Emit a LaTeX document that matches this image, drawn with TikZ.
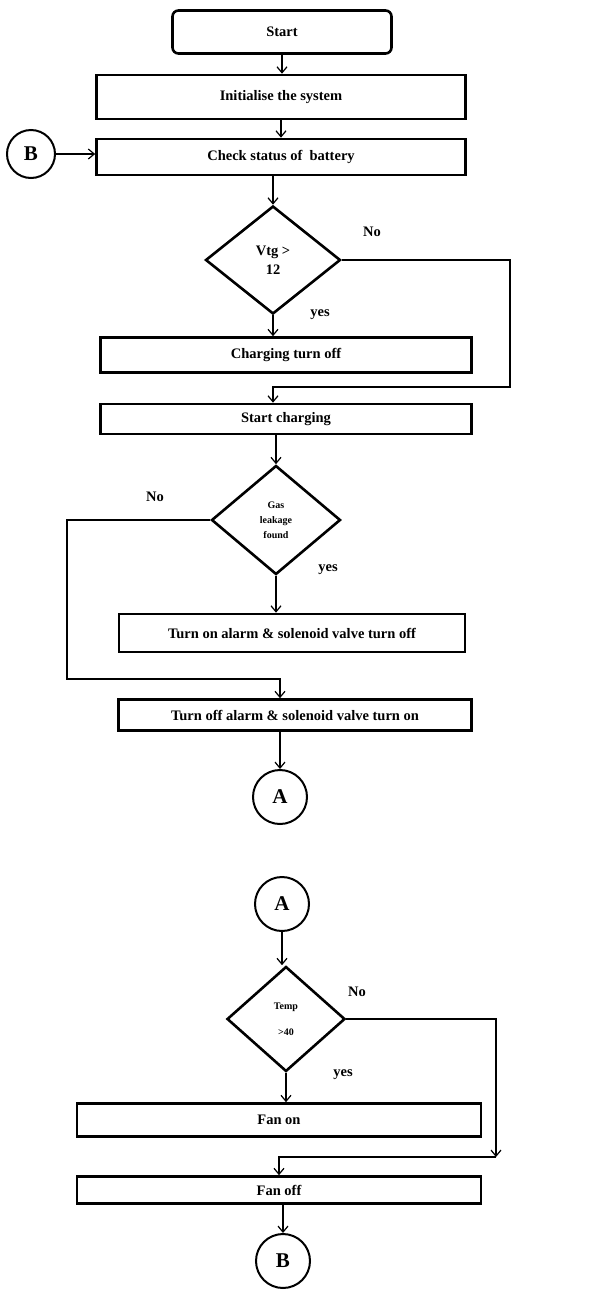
\documentclass[tikz,border=0pt]{standalone}
\usepackage{fontspec}
\setmainfont{Liberation Serif}
\usetikzlibrary{shapes.geometric,arrows.meta}

\begin{document}
\begin{tikzpicture}[x=1pt,y=-1pt,
  font=\bfseries\fontsize{14.5}{17}\selectfont,
  box/.style={draw,line width=2.6pt,inner sep=0pt},
  decision/.style={draw,diamond,line width=2.6pt,inner sep=0pt,align=center},
  connector/.style={draw,circle,line width=2pt,minimum size=54pt,inner sep=0pt,
    font=\bfseries\fontsize{21}{21}\selectfont},
  flow/.style={line width=1.2pt,-{Straight Barb[length=6pt,width=10pt]}},
  lbl/.style={inner sep=0pt}]
\useasboundingbox (0,0) rectangle (601,1291);

% first part
\node[box,rounded corners=6pt,minimum width=219pt,minimum height=43pt] (start) at (282,32) {Start};
\node[box,minimum width=369pt,minimum height=44pt] (init) at (281,97) {Initialise the system};
\node[box,minimum width=369pt,minimum height=36pt] (check) at (281,157) {Check status of\ \ battery};
\node[connector,minimum size=48pt] (b1) at (31,154) {B};
\node[decision,minimum width=135pt,minimum height=108pt] (vtg) at (273,260) {Vtg >\\[2pt]12};
\node[box,minimum width=371pt,minimum height=35pt] (chgoff) at (286,355) {Charging turn off};
\node[box,minimum width=371pt,minimum height=30pt] (chgon) at (286,419) {Start charging};
\node[decision,minimum width=129pt,minimum height=109pt,
  font=\bfseries\fontsize{10}{15}\selectfont] (gas) at (276,520) {Gas\\leakage\\found};
\node[box,minimum width=346pt,minimum height=38pt] (alarmon) at (292,633) {Turn on alarm \& solenoid valve turn off};
\node[box,minimum width=353pt,minimum height=31pt] (alarmoff) at (295,715) {Turn off alarm \& solenoid valve turn on};
\node[connector] (a1) at (280,797) {A};

\node[lbl] (no1) at (372,232) {No};
\node[lbl] (yes1) at (320,315) {yes};
\node[lbl] (no2) at (155,497) {No};
\node[lbl] (yes2) at (328,570) {yes};

\coordinate (n1) at (510,387);
\coordinate (n2) at (67,679);

\draw[flow] (start.south) -- (start.south |- init.north);
\draw[flow] (init) -- (check);
\draw[flow] (b1.east) -- (b1.east -| check.west);
\draw[flow] (check.south -| vtg.north) -- (vtg.north);
\draw[flow] (vtg.south) -- (vtg.south |- chgoff.north);
\draw[flow] (vtg.east) -| (n1) -- (n1 -| vtg.south) -- (vtg.south |- chgon.north);
\draw[flow] (chgon.south -| gas.north) -- (gas.north);
\draw[flow] (gas.south) -- (gas.south |- alarmon.north);
\draw[flow] (gas.west) -| (n2) -- (n2 -| a1) -- (alarmoff.north -| a1);
\draw[flow] (alarmoff.south -| a1) -- (a1);

% second part
\node[connector] (a2) at (282,904) {A};
\node[decision,minimum width=118pt,minimum height=105pt,
  font=\bfseries\fontsize{10}{26}\selectfont] (temp) at (286,1019) {Temp\\>40};
\node[box,minimum width=404pt,minimum height=33pt] (fanon) at (279,1120) {Fan on};
\node[box,minimum width=404pt,minimum height=27pt] (fanoff) at (279,1190) {Fan off};
\node[connector] (b2) at (283,1261) {B};

\node[lbl] (no3) at (357,992) {No};
\node[lbl] (yes3) at (343,1075) {yes};

\coordinate (n3) at (496,1157);

\draw[flow] (a2.south) -- (a2.south |- temp.north);
\draw[flow] (temp.south) -- (temp.south |- fanon.north);
\draw[flow] (temp.east) -| (n3);
\draw[flow] (n3) -- (n3 -| fanoff.north) -- (fanoff.north);
\draw[flow] (fanoff.south -| b2) -- (b2);
\end{tikzpicture}
\end{document}
